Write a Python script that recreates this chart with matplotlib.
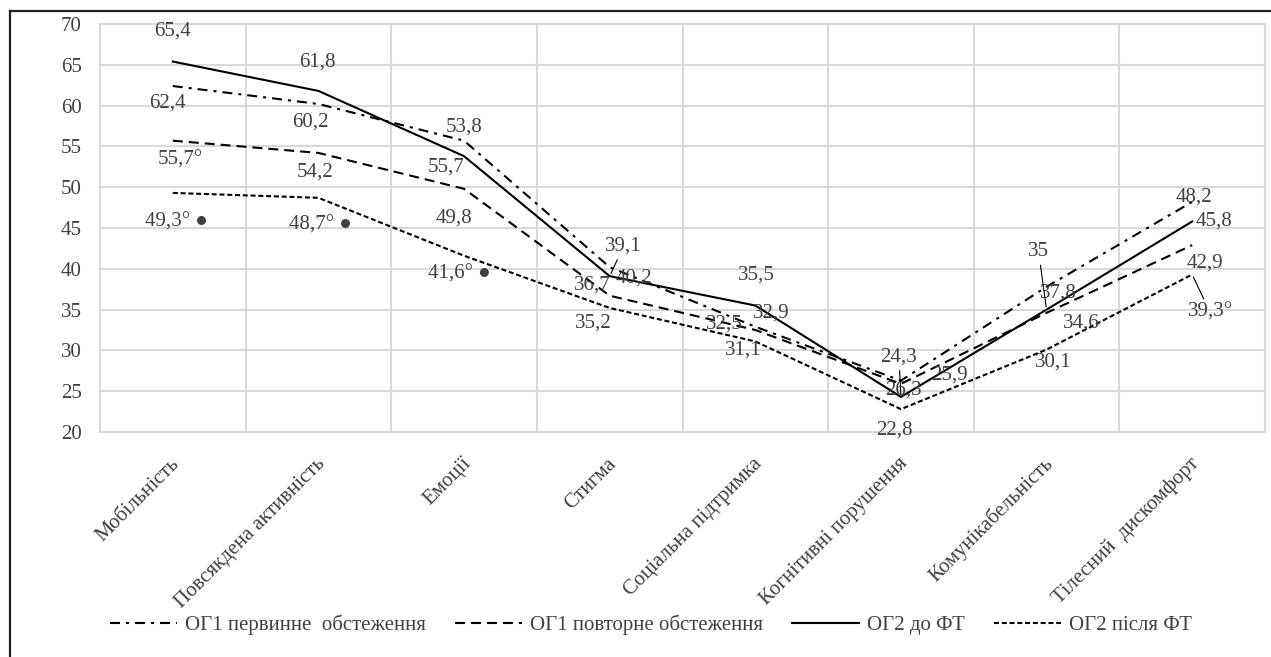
import matplotlib
matplotlib.use("Agg")
import matplotlib.pyplot as plt
from matplotlib.lines import Line2D
from matplotlib.transforms import ScaledTranslation

plt.rcParams['font.family'] = ['Liberation Serif', 'DejaVu Serif']
plt.rcParams['lines.scale_dashes'] = False

categories = ['Мобільність', 'Повсякдена активність', 'Емоції', 'Стигма',
              'Соціальна підтримка', 'Когнітивні порушення', 'Комунікабельність',
              'Тілесний  дискомфорт']

og1_first = [62.4, 60.2, 55.7, 40.2, 32.9, 26.3, 37.8, 48.2]
og1_repeat = [55.7, 54.2, 49.8, 36.7, 32.5, 25.9, 34.6, 42.9]
og2_before = [65.4, 61.8, 53.8, 39.1, 35.5, 24.3, 35, 45.8]
og2_after = [49.3, 48.7, 41.6, 35.2, 31.1, 22.8, 30.1, 39.3]

series_names = ['ОГ1 первинне  обстеження', 'ОГ1 повторне обстеження',
                'ОГ2 до ФТ', 'ОГ2 після ФТ']

# label offsets in pixels (dx, dy up) for each point of each series
off_first = [(-5, -17), (-8, -18), (-18, -26), (24, -11), (16, 14), (3, -9), (12, -6), (2, 5)]
off_repeat = [(7, -19), (-3, -19), (-10, -29), (-17, 11), (-31, 6), (48, 9), (35, -10), (13, -18)]
off_before = [(0, 30), (-1, 29), (0, 29), (14, 30), (1, 30), (-2, 40), (-8, 58), (22, 0)]
off_after = [(4, -29), (2, -27), (-5, -18), (-16, -15), (-12, -9), (-7, -21), (7, -12), (18, -38)]

suf_first = [''] * 8
suf_repeat = ['°', '', '', '', '', '', '', '']
suf_before = [''] * 8
suf_after = ['° ●', '° ●', '° ●', '', '', '', '', '°']

lead_first = [False] * 8
lead_repeat = [False] * 8
lead_before = [False, False, False, True, False, True, True, False]
lead_after = [False] * 7 + [True]

text_col = '#404040'
grid_col = '#d9d9d9'
fs = 15

fig = plt.figure(figsize=(12.71, 6.57), dpi=100)
ax = fig.add_axes([100 / 1271, 1 - 432 / 657, 1165 / 1271, 408 / 657])

x = list(range(len(categories)))
styles = [
    dict(linestyle=(0, (7.2, 4.3, 2.2, 4.3))),
    dict(linestyle=(0, (7.2, 4.3))),
    dict(linestyle='-'),
    dict(linestyle=(0, (3.6, 2.0))),
]
all_vals = [og1_first, og1_repeat, og2_before, og2_after]
all_offs = [off_first, off_repeat, off_before, off_after]
all_sufs = [suf_first, suf_repeat, suf_before, suf_after]
all_leads = [lead_first, lead_repeat, lead_before, lead_after]

for vals, st, name in zip(all_vals, styles, series_names):
    ax.plot(x, vals, color='black', linewidth=1.5, label=name, zorder=3, **st)

for vals, offs, sufs, leads in zip(all_vals, all_offs, all_sufs, all_leads):
    for i, v in enumerate(vals):
        txt = f"{v:g}".replace('.', ',') + sufs[i]
        arrow = None
        if leads[i]:
            arrow = dict(arrowstyle='-', color='black', lw=0.8, shrinkA=1, shrinkB=2)
        ax.annotate(txt, (i, v), xytext=offs[i], textcoords='offset pixels',
                    ha='center', va='center', fontsize=fs, color=text_col,
                    arrowprops=arrow, zorder=4)

ax.set_xlim(-0.5, len(categories) - 0.5)
ax.set_ylim(20, 70)
ax.set_yticks(range(20, 71, 5))
ax.set_xticks(x)
ax.set_xticks([i - 0.5 for i in range(len(categories) + 1)], minor=True)
ax.set_xticklabels([])

# rotated category names under the axis
cat_trans = ax.get_xaxis_transform() + ScaledTranslation(0.04, -0.29, fig.dpi_scale_trans)
for i, cat in enumerate(categories):
    ax.text(i, 0, cat, transform=cat_trans, rotation=45, ha='right', va='center',
            rotation_mode='anchor', fontsize=fs, color=text_col, clip_on=False)

ax.tick_params(axis='both', which='both', length=0)
ax.tick_params(axis='y', labelsize=fs, labelcolor=text_col, pad=13)
ax.grid(True, axis='y', color=grid_col, linewidth=1.5)
ax.grid(True, axis='x', which='minor', color=grid_col, linewidth=1.5)
ax.set_axisbelow(True)
for sp in ax.spines.values():
    sp.set_color(grid_col)
    sp.set_linewidth(1.5)

fig.legend(loc='center', bbox_to_anchor=(651 / 1271, 1 - 625 / 657), ncol=4,
           frameon=False, fontsize=fs, handlelength=3.2, handletextpad=0.4,
           columnspacing=1.4, labelcolor=text_col)

# outer frame, only the top and left edges fall inside the image
fig.add_artist(Line2D([10 / 1271, 10 / 1271], [0, 1 - 11 / 657], color='#202020', linewidth=1.6))
fig.add_artist(Line2D([10 / 1271, 1], [1 - 11 / 657, 1 - 11 / 657], color='#202020', linewidth=1.6))

fig.savefig('out.png', dpi=100)
